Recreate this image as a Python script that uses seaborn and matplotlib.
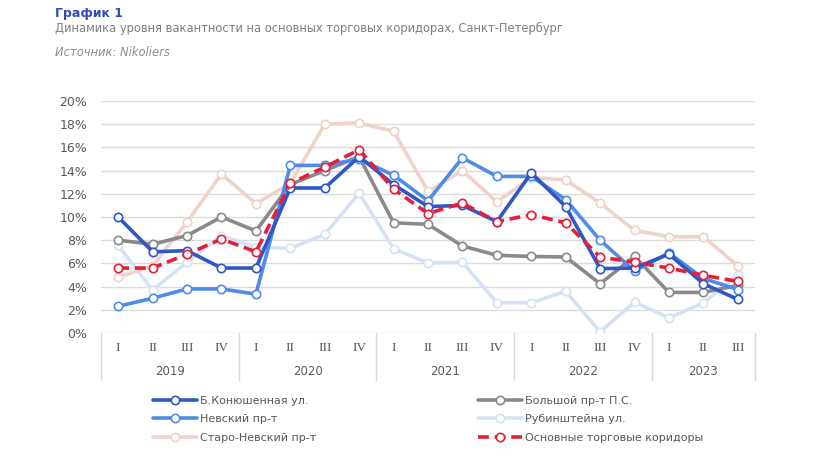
import matplotlib
matplotlib.use("Agg")
import numpy as np
import pandas as pd
import matplotlib.pyplot as plt
import matplotlib.transforms as mtransforms
import seaborn as sns

quarters = ["I", "II", "III", "IV"] * 4 + ["I", "II", "III"]
years = ["2019", "2020", "2021", "2022", "2023"]
year_sizes = [4, 4, 4, 4, 3]

konyush = [10.0, 7.0, 7.1, 5.6, 5.6, 12.5, 12.5, 15.2, 12.8, 10.9, 11.0, 9.6, 13.8, 10.9, 5.55, 5.6, 6.8, 4.25, 2.9]
nevsky = [2.3, 3.0, 3.8, 3.8, 3.35, 14.45, 14.45, 15.0, 13.6, 11.4, 15.1, 13.5, 13.5, 11.5, 8.0, 5.35, 6.9, 4.7, 3.75]
bolshoy = [8.0, 7.65, 8.4, 10.0, 8.8, 12.8, 14.0, 15.2, 9.5, 9.37, 7.5, 6.7, 6.6, 6.55, 4.25, 6.6, 3.5, 3.5, 4.1]
rubin = [7.55, 3.7, 6.1, 8.4, 7.4, 7.3, 8.5, 12.05, 7.27, 6.03, 6.1, 2.6, 2.6, 3.6, 0.1, 2.67, 1.3, 2.6, 5.0]
staro = [4.8, 5.8, 9.57, 13.7, 11.15, 12.9, 18.0, 18.1, 17.4, 12.2, 14.0, 11.3, 13.4, 13.2, 11.2, 8.85, 8.3, 8.3, 5.8]
total = [5.6, 5.6, 6.8, 8.1, 7.0, 12.9, 14.3, 15.8, 12.4, 10.3, 11.2, 9.6, 10.2, 9.5, 6.55, 6.1, 5.6, 4.97, 4.45]

names = ["Б.Конюшенная ул.", "Невский пр-т", "Старо-Невский пр-т",
         "Большой пр-т П.С.", "Рубинштейна ул.", "Основные торговые коридоры"]
colors = {"Б.Конюшенная ул.": "#2F57C6",
          "Невский пр-т": "#4E8CE8",
          "Старо-Невский пр-т": "#F1D2CA",
          "Большой пр-т П.С.": "#8A8A8A",
          "Рубинштейна ул.": "#D5E2F6",
          "Основные торговые коридоры": "#E51E3A"}
values = {"Б.Конюшенная ул.": konyush, "Невский пр-т": nevsky, "Старо-Невский пр-т": staro,
          "Большой пр-т П.С.": bolshoy, "Рубинштейна ул.": rubin,
          "Основные торговые коридоры": total}

sns.set_style("white")
plt.rcParams["font.family"] = ["DejaVu Sans"]

fig = plt.figure(figsize=(8.4, 4.73), dpi=100)
W, H = 840, 473
ax = fig.add_axes([101 / W, 1 - 333 / H, (755 - 101) / W, (333 - 101) / H])

x = np.arange(len(quarters))
draw_order = ["Рубинштейна ул.", "Старо-Невский пр-т", "Большой пр-т П.С.",
              "Невский пр-т", "Б.Конюшенная ул.", "Основные торговые коридоры"]
handles = {}
for i, name in enumerate(draw_order):
    df = pd.DataFrame({"x": x, "y": values[name]})
    ls = (0, (3, 1.6)) if name == "Основные торговые коридоры" else "-"
    sns.lineplot(data=df, x="x", y="y", ax=ax, color=colors[name], linewidth=2.6,
                 linestyle=ls, marker="o", markersize=6, markerfacecolor="white",
                 markeredgecolor=colors[name], markeredgewidth=1.2, zorder=3 + i)
    handles[name] = ax.get_lines()[-1]

ax.set_xlim(-0.5, len(quarters) - 0.5)
ax.set_ylim(0, 20)
ax.set_yticks(np.arange(0, 21, 2))
ax.set_yticklabels([f"{v}%" for v in range(0, 21, 2)], fontsize=9, color="#595959")
ax.tick_params(axis="y", length=0, pad=10)
ax.set_xticks([])
ax.set_xlabel("")
ax.set_ylabel("")
ax.grid(axis="y", color="#DCDCDC", linewidth=1)
for s in ax.spines.values():
    s.set_visible(False)

# category axis: quarters and years
trans = mtransforms.blended_transform_factory(ax.transData, fig.transFigure)
for xi, q in zip(x, quarters):
    ax.text(xi, 1 - 348 / H, q, transform=trans, ha="center", va="center",
            fontsize=9.5, color="#595959", family="Liberation Serif")
start = 0
bounds = [-0.5]
for yr, n in zip(years, year_sizes):
    ax.text(start + (n - 1) / 2, 1 - 371 / H, yr, transform=trans, ha="center",
            va="center", fontsize=8.5, color="#595959")
    start += n
    bounds.append(start - 0.5)
for b in bounds:
    ax.plot([b, b], [1 - 333 / H, 1 - 380 / H], transform=trans, color="#D9D9D9",
            linewidth=1, clip_on=False)

# legends (two columns)
col1 = ["Б.Конюшенная ул.", "Невский пр-т", "Старо-Невский пр-т"]
col2 = ["Большой пр-т П.С.", "Рубинштейна ул.", "Основные торговые коридоры"]
for col, x0 in [(col1, 143), (col2, 468)]:
    fig.legend([handles[n] for n in col], col, loc="upper left",
               bbox_to_anchor=(x0 / W, 1 - 386 / H), frameon=False, fontsize=8,
               handlelength=4.0, handletextpad=0.25, labelspacing=0.75,
               numpoints=1, labelcolor="#595959")

fig.text(55 / W, 1 - 14 / H, "График 1", fontsize=9, fontweight="bold",
         color="#2E4DB8", va="center")
fig.text(55 / W, 1 - 28 / H, "Динамика уровня вакантности на основных торговых коридорах, Санкт-Петербург",
         fontsize=8.3, color="#7F7F7F", va="center")
fig.text(55 / W, 1 - 52 / H, "Источник: Nikoliers", fontsize=8.3, style="italic",
         color="#8C8C8C", va="center")

fig.savefig("out.png", dpi=100, facecolor="white")
